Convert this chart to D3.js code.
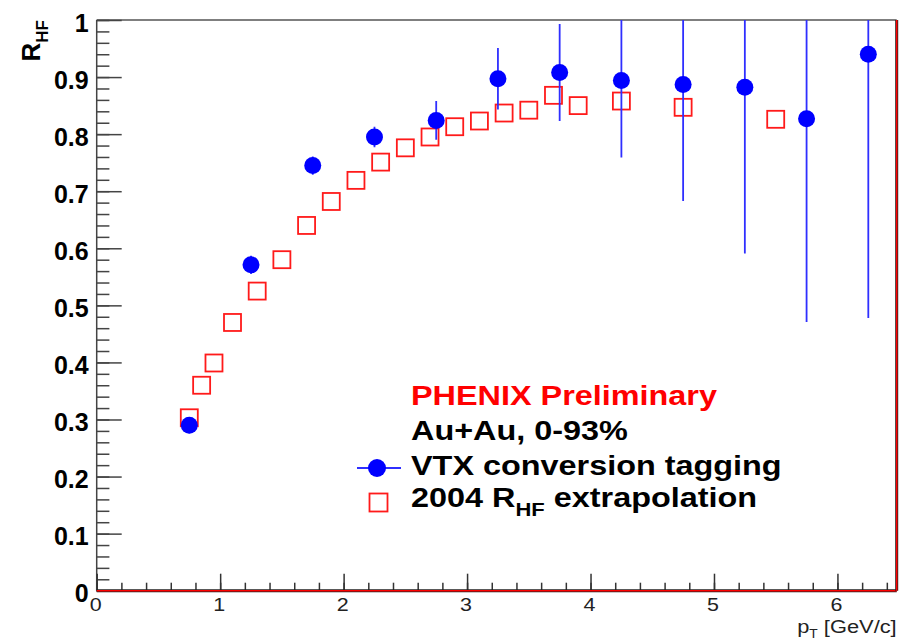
<!DOCTYPE html>
<html>
<head>
<meta charset="utf-8">
<script src="https://cdn.jsdelivr.net/npm/d3@7"></script>
<style>
  html, body { margin: 0; padding: 0; background: #fff; }
  svg { display: block; }
  text { font-family: "Liberation Sans", Arial, Helvetica, sans-serif; }
</style>
</head>
<body>
<svg id="chart" width="909" height="643"></svg>
<script>
// ---- data ----
const vtxPt  = [0.75, 1.25, 1.75, 2.25, 2.75, 3.25, 3.75, 4.25, 4.75, 5.25, 5.75, 6.25];
const vtxR   = [0.290, 0.571, 0.745, 0.795, 0.824, 0.897, 0.908, 0.894, 0.887, 0.882, 0.827, 0.940];
const vtxErr = [0.014, 0.016, 0.016, 0.018, 0.034, 0.054, 0.085, 0.135, 0.204, 0.291, 0.356, 0.462];

const extPt = [0.75, 0.85, 0.95, 1.1, 1.3, 1.5, 1.7, 1.9, 2.1, 2.3, 2.5, 2.7, 2.9, 3.1, 3.3, 3.5, 3.7, 3.9, 4.25, 4.75, 5.5];
const extR  = [0.303, 0.360, 0.399, 0.470, 0.525, 0.580, 0.640, 0.682, 0.719, 0.751, 0.776, 0.795, 0.813, 0.823, 0.837, 0.842, 0.868, 0.850, 0.858, 0.847, 0.826];

const xTickVals = [0, 1, 2, 3, 4, 5, 6];
const xTickLabels = ["0", "1", "2", "3", "4", "5", "6"];
const yTickVals = [0, 0.1, 0.2, 0.3, 0.4, 0.5, 0.6, 0.7, 0.8, 0.9, 1];
const yTickLabels = ["0", "0.1", "0.2", "0.3", "0.4", "0.5", "0.6", "0.7", "0.8", "0.9", "1"];

const legendTitle = "PHENIX Preliminary";
const legendSystem = "Au+Au, 0-93%";
const seriesNames = ["VTX conversion tagging", "2004 R", "HF", " extrapolation"];

// ---- layout ----
const L = 96.7, R = 896.7, T = 20, B = 590.7;
const x = d3.scaleLinear().domain([0, 6.48]).range([L, R]);
const y = d3.scaleLinear().domain([0, 1]).range([B, T]);

const svg = d3.select("#chart");

svg.append("defs").append("clipPath").attr("id", "plotclip")
  .append("rect").attr("x", L).attr("y", T).attr("width", R - L).attr("height", B - T);

// frame
svg.append("line").attr("x1", L).attr("x2", R).attr("y1", T).attr("y2", T)
  .attr("stroke", "#555").attr("stroke-width", 1.5);
svg.append("line").attr("x1", L).attr("x2", L).attr("y1", T).attr("y2", B)
  .attr("stroke", "#444").attr("stroke-width", 1.5);

// Y axis: major and minor ticks (inward)
const yAxisMajor = d3.axisRight(y).tickValues(yTickVals).tickSize(25).tickFormat("");
const yAxisMinor = d3.axisRight(y).tickValues(d3.range(0, 1.0001, 0.02)).tickSize(12.7).tickFormat("");
[yAxisMinor, yAxisMajor].forEach(ax => {
  const g = svg.append("g").attr("transform", `translate(${L},0)`).call(ax);
  g.select(".domain").remove();
  g.selectAll("line").attr("stroke", "#444").attr("stroke-width", 1.5);
});
svg.append("g").selectAll("text").data(yTickVals).join("text")
  .attr("x", L - 8).attr("y", d => y(d) + 11.5)
  .attr("text-anchor", "end")
  .attr("font-size", 25).attr("font-weight", "bold").attr("fill", "#000")
  .text((d, i) => yTickLabels[i]);

// X axis: major and minor ticks (inward)
const xAxisMajor = d3.axisTop(x).tickValues(xTickVals).tickSize(17).tickFormat("");
const xAxisMinor = d3.axisTop(x).tickValues(d3.range(0, 6.41, 0.2)).tickSize(8).tickFormat("");
[xAxisMinor, xAxisMajor].forEach(ax => {
  const g = svg.append("g").attr("transform", `translate(0,${B})`).call(ax);
  g.select(".domain").remove();
  g.selectAll("line").attr("stroke", "#333").attr("stroke-width", 1.5);
});
const xl = svg.append("g").selectAll("g").data(xTickVals).join("g")
  .attr("transform", d => `translate(${x(d) - 1},611) scale(1.13,1)`);
xl.append("text").attr("text-anchor", "middle")
  .attr("font-size", 19).attr("fill", "#222")
  .text((d, i) => xTickLabels[i]);

// bottom and right red lines
svg.append("line").attr("x1", L).attr("x2", R).attr("y1", B).attr("y2", B)
  .attr("stroke", "#222").attr("stroke-width", 3);
svg.append("line").attr("x1", L).attr("x2", R).attr("y1", B).attr("y2", B)
  .attr("stroke", "#ff0000").attr("stroke-width", 1.5);
svg.append("line").attr("x1", R).attr("x2", R).attr("y1", T).attr("y2", B)
  .attr("stroke", "#222").attr("stroke-width", 3);
svg.append("line").attr("x1", R).attr("x2", R).attr("y1", T).attr("y2", B)
  .attr("stroke", "#ff0000").attr("stroke-width", 1.5);

// axis titles
const yt = svg.append("text")
  .attr("transform", `translate(40,20) rotate(-90)`)
  .attr("text-anchor", "end").attr("font-weight", "bold").attr("fill", "#000");
yt.append("tspan").attr("font-size", 26).text("R");
yt.append("tspan").attr("font-size", 17).attr("dy", 8).text("HF");

const xtG = svg.append("g").attr("transform", `translate(${R},633) scale(1.15,1)`);
const xt = xtG.append("text").attr("text-anchor", "end").attr("fill", "#222");
xt.append("tspan").attr("font-size", 19).text("p");
xt.append("tspan").attr("font-size", 12).attr("dy", 5).text("T");
xt.append("tspan").attr("font-size", 19).attr("dy", -5).text(" [GeV/c]");

// ---- data marks ----
const plot = svg.append("g").attr("clip-path", "url(#plotclip)");

// 2004 extrapolation: open red squares
const half = 8.5;
plot.append("g").selectAll("rect").data(extPt).join("rect")
  .attr("x", d => x(d) - half)
  .attr("y", (d, i) => y(extR[i]) - half)
  .attr("width", half * 2).attr("height", half * 2)
  .attr("fill", "none").attr("stroke", "#ff1a1a").attr("stroke-width", 1.8);

// VTX error bars
plot.append("g").selectAll("line").data(vtxPt).join("line")
  .attr("x1", d => x(d)).attr("x2", d => x(d))
  .attr("y1", (d, i) => y(vtxR[i] + vtxErr[i]))
  .attr("y2", (d, i) => y(vtxR[i] - vtxErr[i]))
  .attr("stroke", "#2f2fff").attr("stroke-width", 1.8);

// VTX filled blue circles
plot.append("g").selectAll("circle").data(vtxPt).join("circle")
  .attr("cx", d => x(d)).attr("cy", (d, i) => y(vtxR[i]))
  .attr("r", 8.5).attr("fill", "#0000ff");

// ---- legend ----
function stretchedText(tx, ty, size, color) {
  return svg.append("g").attr("transform", `translate(${tx},${ty}) scale(1.157,1)`)
    .append("text").attr("font-size", size).attr("font-weight", "bold").attr("fill", color);
}
stretchedText(411, 405, 28, "#ff0000").text(legendTitle);
stretchedText(411, 440, 28, "#000").text(legendSystem);
stretchedText(411, 475, 28, "#000").text(seriesNames[0]);
const l4 = stretchedText(411, 507, 28, "#000");
l4.append("tspan").text(seriesNames[1]);
l4.append("tspan").attr("font-size", 19).attr("dy", 9).text(seriesNames[2]);
l4.append("tspan").attr("dy", -9).text(seriesNames[3]);

svg.append("line").attr("x1", 357).attr("x2", 401).attr("y1", 468).attr("y2", 468)
  .attr("stroke", "#2f2fff").attr("stroke-width", 1.8);
svg.append("circle").attr("cx", 377).attr("cy", 468).attr("r", 9).attr("fill", "#0000ff");
svg.append("rect").attr("x", 378.5 - 9).attr("y", 502.5 - 9).attr("width", 18).attr("height", 18)
  .attr("fill", "none").attr("stroke", "#ff1a1a").attr("stroke-width", 1.8);
</script>
</body>
</html>
